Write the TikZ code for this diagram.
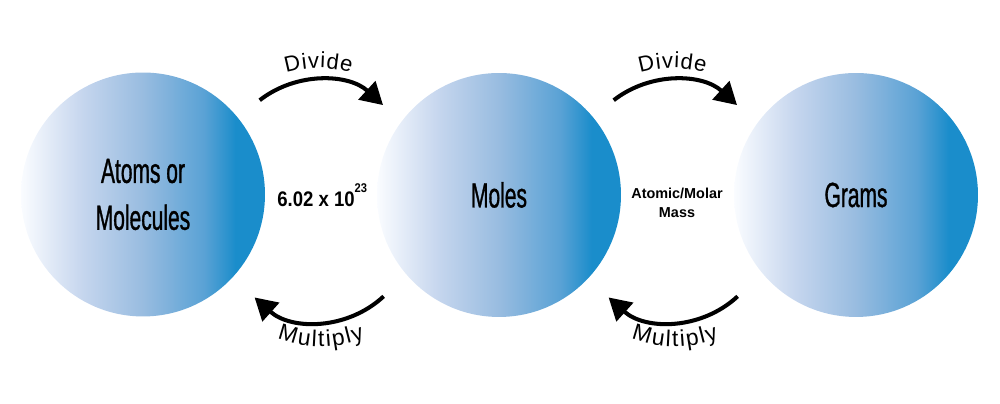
\documentclass[tikz,border=0pt]{standalone}
\usepackage{fontspec}
\setmainfont{Liberation Sans}
\newfontfamily\circfont[FakeStretch=0.6,FakeBold=0.9]{Liberation Sans}
\newfontfamily\numfont[FakeStretch=0.88]{Liberation Sans}
\newfontfamily\arcfont{Liberation Sans}
\usetikzlibrary{arrows.meta,decorations.text}
\definecolor{ballblue}{HTML}{1A8DCB}
\definecolor{sA}{HTML}{C6D6EE}
\definecolor{sB}{HTML}{98BCE0}
\definecolor{sC}{HTML}{5AA2D5}
\definecolor{sW}{HTML}{FAFCFF}
\pgfdeclarehorizontalshading{ballshade}{100bp}{color(0bp)=(sW); color(25bp)=(sW); color(37.5bp)=(sA); color(50bp)=(sB); color(62.5bp)=(sC); color(69bp)=(ballblue); color(100bp)=(ballblue)}
\newcommand{\dk}[1]{#1\kern0.5pt}
\newcommand{\mk}[1]{#1\kern1pt}
\tikzset{
  ball/.style={circle, minimum size=4.88cm, inner sep=0pt, shading=ballshade, draw=none,
    align=center, font=\circfont\fontsize{19.9}{26.7}\selectfont},
  arr/.style={line width=2.3pt, -{Triangle[length=12.5pt,width=14pt]}},
  divtext/.style={decorate, decoration={text along path, text align=center,
    text={|\arcfont\fontsize{12.5}{15}\selectfont|{\dk{D}}{\dk{i}}{\dk{v}}{\dk{i}}{\dk{d}}{e}}}},
  multext/.style={decorate, decoration={text along path, text align=center,
    text={|\arcfont\fontsize{13}{15}\selectfont|{\mk{M}}{\mk{u}}{\mk{l}}{\mk{t}}{\mk{i}}{\mk{p}}{\mk{l}}{y}}}}
}
\begin{document}
\begin{tikzpicture}[x=0.02cm,y=0.02cm]
\useasboundingbox (0,0) rectangle (1000,404);
\node[ball] (atoms) at (143,209.5) {Atoms or\\Molecules};
\node[ball] (moles) at (499,209) {Moles};
\node[ball] (grams) at (856,209) {Grams};

\node[anchor=base west, inner sep=0pt, font=\numfont\bfseries\fontsize{12}{14}\selectfont] (avo) at (277,197)
  {6.02 x 10\raisebox{8.5pt}{\fontsize{7.2}{8}\selectfont 23}};
\node[inner sep=0pt, align=center, font=\bfseries\fontsize{8.2}{10.8}\selectfont] (molar) at (677,201)
  {Atomic/Molar\\Mass};

% first pair
\coordinate (dc1) at (318.5,228.5);
\coordinate (mc1) at (318.5,177.5);
\coordinate (tc1) at (321,177.5);
\path (dc1) ++(128:95.5) coordinate (d1s);
\path (mc1) ++(-47:95.5) coordinate (m1s);
\draw[arr] (d1s) arc[start angle=128, end angle=47.5, radius=95.5];
\draw[arr] (m1s) arc[start angle=-47, end angle=-132, radius=95.5];
\path[divtext] (dc1) ++(150:107.5) arc[start angle=150, end angle=30, radius=107.5];
\path[multext] (tc1) ++(-150:120) arc[start angle=-150, end angle=-30, radius=120];

% second pair
\coordinate (dc2) at (672.5,228.5);
\coordinate (mc2) at (672.5,177.5);
\coordinate (tc2) at (675,177.5);
\path (dc2) ++(128:95.5) coordinate (d2s);
\path (mc2) ++(-47:95.5) coordinate (m2s);
\draw[arr] (d2s) arc[start angle=128, end angle=47.5, radius=95.5];
\draw[arr] (m2s) arc[start angle=-47, end angle=-132, radius=95.5];
\path[divtext] (dc2) ++(150:107.5) arc[start angle=150, end angle=30, radius=107.5];
\path[multext] (tc2) ++(-150:120) arc[start angle=-150, end angle=-30, radius=120];
\end{tikzpicture}
\end{document}
